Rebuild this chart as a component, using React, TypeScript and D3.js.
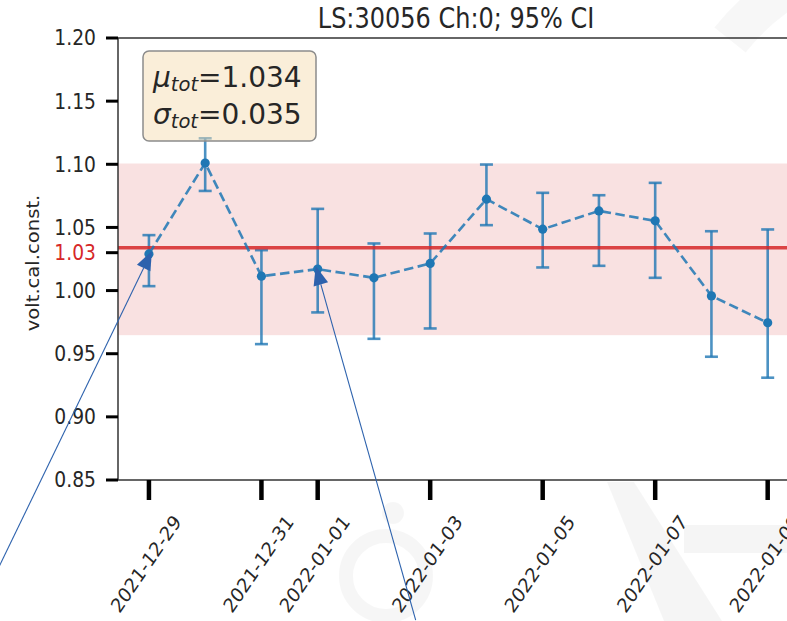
import React from "react";
import * as d3 from "d3";

// ---- data ----
const dates = [
  "2021-12-29", "2021-12-30", "2021-12-31", "2022-01-01", "2022-01-02", "2022-01-03",
  "2022-01-04", "2022-01-05", "2022-01-06", "2022-01-07", "2022-01-08", "2022-01-09",
];
const values = [1.029, 1.101, 1.0114, 1.017, 1.0101, 1.0215, 1.0724, 1.0486, 1.0631, 1.0552, 0.9958, 0.9745];
const ciLow = [1.0035, 1.0789, 0.9576, 0.9827, 0.9618, 0.970, 1.0518, 1.0183, 1.0196, 1.0101, 0.9476, 0.931];
const ciHigh = [1.0439, 1.1206, 1.032, 1.0647, 1.0373, 1.0452, 1.0998, 1.0774, 1.0755, 1.0853, 1.047, 1.0484];
const xTickLabels = ["2021-12-29", "2021-12-31", "2022-01-01", "2022-01-03", "2022-01-05", "2022-01-07", "2022-01-09"];
const yTickValues = [0.85, 0.9, 0.95, 1.0, 1.05, 1.1, 1.15, 1.2];
const muTot = 1.034;
const sigmaTot = 0.035;
const bandLimits = [0.9647, 1.1006];
const meanTickValue = 1.03;
const arrowTargets = ["2021-12-29", "2022-01-01"];
const title = "LS:30056 Ch:0; 95% CI";
const yLabel = "volt.cal.const.";

const W = 787;
const H = 621;
const FONT = "'DejaVu Sans', sans-serif";
const BLUE = "#1f77b4";
const RED = "#d62728";
const ARROW = "#2d62ad";
const TEXT = "#262626";
const STRETCH = 1.15;

const parse = d3.utcParse("%Y-%m-%d");

export default function App() {
  const dts = dates.map((d) => parse(d) as Date);
  const day = 86400000;
  const first = dts[0].getTime();
  const last = dts[dts.length - 1].getTime();
  const margin = (last - first) * 0.05;
  const left = 118;
  const pxPerDay = 56.25;
  const right = left + ((last - first + 2 * margin) / day) * pxPerDay;
  const top = 38;
  const bottom = 480;

  const x = d3.scaleUtc().domain([new Date(first - margin), new Date(last + margin)]).range([left, right]);
  const y = d3.scaleLinear().domain([0.85, 1.2]).range([bottom, top]);

  const pts = dts.map((d, i) => ({ x: x(d), y: y(values[i]), lo: y(ciLow[i]), hi: y(ciHigh[i]) }));
  const line = d3.line<{ x: number; y: number }>().x((p) => p.x).y((p) => p.y);

  const stretchT = (cx: number, cy: number) => `translate(${cx},${cy}) scale(1,${STRETCH})`;

  // arrows from annotation tails to data points
  const arrowTails = [
    { dx: -153, dy: 316 },
    { dx: 100, dy: 354 },
  ];
  const arrows = arrowTargets.map((t, k) => {
    const i = dates.indexOf(t);
    const tipX = pts[i].x + (k === 0 ? 3 : -2);
    const tipY = pts[i].y + (k === 0 ? -3 : -3);
    const tx = tipX + arrowTails[k].dx;
    const ty = tipY + arrowTails[k].dy;
    const ang = Math.atan2(tipY - ty, tipX - tx);
    const len = 19;
    const wid = 7.5;
    const bx = tipX - len * Math.cos(ang);
    const by = tipY - len * Math.sin(ang);
    const px = -Math.sin(ang);
    const py = Math.cos(ang);
    const head = `M${tipX},${tipY}L${bx + wid * px},${by + wid * py}L${bx - wid * px},${by - wid * py}Z`;
    return { tx, ty, bx, by, head };
  });

  return (
    <svg
      width={W}
      height={H}
      style={{ position: "absolute", left: 0, top: 0, background: "#fff" }}
      fontFamily={FONT}
    >
      <rect x={0} y={0} width={W} height={H} fill="#fff" />
      {/* faint background watermark */}
      <g fill="#000" fillOpacity={0.04}>
        <path d="M607,482 L634,482 L722,621 L664,621 Z" />
        <rect x={684} y={525} width={103} height={28} />
      </g>
      <path d="M730,40 A230,230 0 0 1 812,-25" fill="none" stroke="#000" strokeOpacity={0.03} strokeWidth={40} />
      <circle cx={386} cy={576} r={40} fill="none" stroke="#000" strokeOpacity={0.035} strokeWidth={14} />
      <circle cx={393} cy={513} r={11} fill="#000" fillOpacity={0.035} />
      {/* band */}
      <rect
        x={left}
        y={y(bandLimits[1])}
        width={right - left}
        height={y(bandLimits[0]) - y(bandLimits[1])}
        fill={RED}
        fillOpacity={0.14}
      />
      {/* error bars */}
      <g stroke={BLUE} strokeOpacity={0.8} strokeWidth={2.6}>
        {pts.map((p, i) => (
          <g key={i}>
            <line x1={p.x} x2={p.x} y1={p.hi} y2={p.lo} />
            <line x1={p.x - 6.5} x2={p.x + 6.5} y1={p.hi} y2={p.hi} />
            <line x1={p.x - 6.5} x2={p.x + 6.5} y1={p.lo} y2={p.lo} />
          </g>
        ))}
      </g>
      {/* mean line */}
      <line x1={left} x2={right} y1={y(muTot)} y2={y(muTot)} stroke={RED} strokeOpacity={0.85} strokeWidth={3.5} />
      {/* dashed series */}
      <path d={line(pts) || ""} fill="none" stroke={BLUE} strokeOpacity={0.85} strokeWidth={2.6} strokeDasharray="9.5,4.5" />
      {pts.map((p, i) => (
        <circle key={i} cx={p.x} cy={p.y} r={4.6} fill={BLUE} />
      ))}
      {/* spines */}
      <g stroke="#333" strokeWidth={1.5} fill="none">
        <line x1={left} x2={left} y1={top} y2={bottom} />
        <line x1={left} x2={right} y1={bottom} y2={bottom} />
        <line x1={left} x2={right} y1={top} y2={top} />
      </g>
      {/* y ticks */}
      {yTickValues.map((v) => (
        <g key={v}>
          <line x1={106} x2={left} y1={y(v)} y2={y(v)} stroke="#000" strokeWidth={3} />
          <g transform={stretchT(96, y(v))}>
            <text x={0} y={0} textAnchor="end" dominantBaseline="central" fontSize={18.7} fill={TEXT}>
              {v.toFixed(2)}
            </text>
          </g>
        </g>
      ))}
      <line x1={106} x2={left} y1={y(meanTickValue)} y2={y(meanTickValue)} stroke="#000" strokeWidth={3} />
      <g transform={stretchT(96, y(meanTickValue))}>
        <text x={0} y={0} textAnchor="end" dominantBaseline="central" fontSize={18.7} fill={RED}>
          {meanTickValue.toFixed(2)}
        </text>
      </g>
      {/* x ticks */}
      {xTickLabels.map((t) => {
        const xx = x(parse(t) as Date);
        return (
          <g key={t}>
            <line x1={xx} x2={xx} y1={bottom} y2={bottom + 20} stroke="#000" strokeWidth={4.5} />
            <g transform={`translate(${xx - 3},${564}) scale(1,${STRETCH}) rotate(-52)`}>
              <text x={0} y={0} textAnchor="middle" dominantBaseline="central" fontSize={17.5} fill={TEXT}>
                {t}
              </text>
            </g>
          </g>
        );
      })}
      {/* y label */}
      <g transform={`translate(33,263) scale(1,1.12) rotate(-90)`}>
        <text x={0} y={0} textAnchor="middle" dominantBaseline="central" fontSize={17.5} fill={TEXT}>
          {yLabel}
        </text>
      </g>
      {/* title */}
      <g transform={stretchT(456, 28)}>
        <text x={0} y={0} textAnchor="middle" fontSize={24} fill={TEXT}>
          {title}
        </text>
      </g>
      {/* stats box */}
      <rect x={143} y={51} width={173} height={90} rx={6} fill="#f5deb3" fillOpacity={0.5} stroke="#8c8c8c" strokeWidth={1.5} />
      <text x={153} y={87} fontSize={28} fill={TEXT}>
        <tspan fontStyle="italic">μ</tspan>
        <tspan fontStyle="italic" fontSize={19.5} dy={4}>tot</tspan>
        <tspan dy={-4}>{`=${muTot.toFixed(3)}`}</tspan>
      </text>
      <text x={153} y={124} fontSize={28} fill={TEXT}>
        <tspan fontStyle="italic">σ</tspan>
        <tspan fontStyle="italic" fontSize={19.5} dy={4}>tot</tspan>
        <tspan dy={-4}>{`=${sigmaTot.toFixed(3)}`}</tspan>
      </text>
      {/* annotation arrows */}
      {arrows.map((a, k) => (
        <g key={k}>
          <line x1={a.tx} y1={a.ty} x2={a.bx} y2={a.by} stroke={ARROW} strokeWidth={1.1} />
          <path d={a.head} fill={ARROW} />
        </g>
      ))}
    </svg>
  );
}
